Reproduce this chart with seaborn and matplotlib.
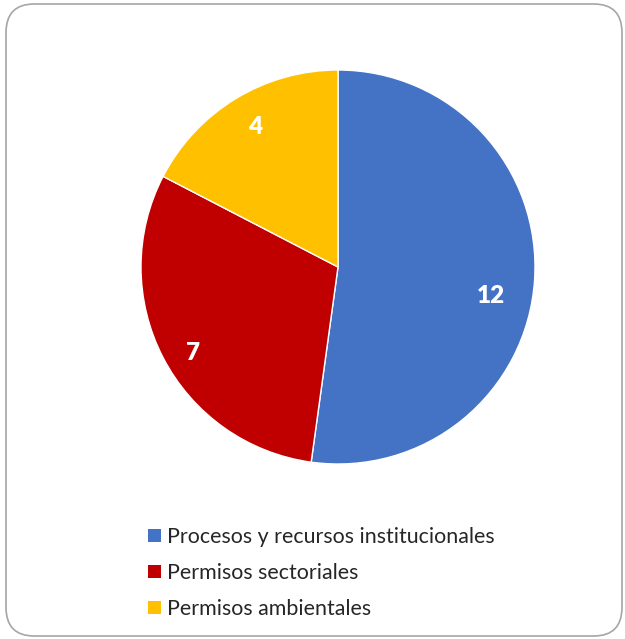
import matplotlib.pyplot as plt
import seaborn as sns
from matplotlib.patches import FancyBboxPatch, Patch

# data
categories = ["Procesos y recursos institucionales", "Permisos sectoriales", "Permisos ambientales"]
values = [12, 7, 4]
colors = ["#4472C4", "#C00000", "#FFC000"]
# label anchor points (inside each slice, unit radius)
label_pos = [(0.777, -0.147), (-0.736, -0.437), (-0.421, 0.711)]

sns.set_theme(style="white")
plt.rcParams["font.family"] = ["Lato", "DejaVu Sans"]

W, H = 625, 639
fig = plt.figure(figsize=(W / 100, H / 100), dpi=100)

# rounded frame
frame = FancyBboxPatch((6 / W, 3 / H), 616 / W, 632 / H,
                       boxstyle="round,pad=0,rounding_size=0.045",
                       transform=fig.transFigure, facecolor="white",
                       edgecolor="#A6A6A6", linewidth=1.2, zorder=-5)
fig.patches.append(frame)

cx, cy, r = 338, 267, 197
ax = fig.add_axes([(cx - r) / W, 1 - (cy + r) / H, 2 * r / W, 2 * r / H])
ax.set_facecolor("none")
ax.pie(values, colors=colors, startangle=90, counterclock=False,
       wedgeprops=dict(edgecolor="white", linewidth=1))
ax.set_xlim(-1, 1)
ax.set_ylim(-1, 1)
ax.set_aspect("equal")
for v, (x, y) in zip(values, label_pos):
    ax.text(x, y, str(v), ha="center", va="center", color="white",
            fontsize=17.5, fontweight="heavy")

handles = [Patch(facecolor=c, edgecolor="none") for c in colors]
fig.legend(handles, categories, loc="upper left",
           bbox_to_anchor=(129 / W, 1 - 508 / H), frameon=False,
           fontsize=15.4, handlelength=0.58, handleheight=0.58,
           handletextpad=0.3, labelspacing=0.74, labelcolor="#262626")

fig.savefig("out.png", dpi=100)
